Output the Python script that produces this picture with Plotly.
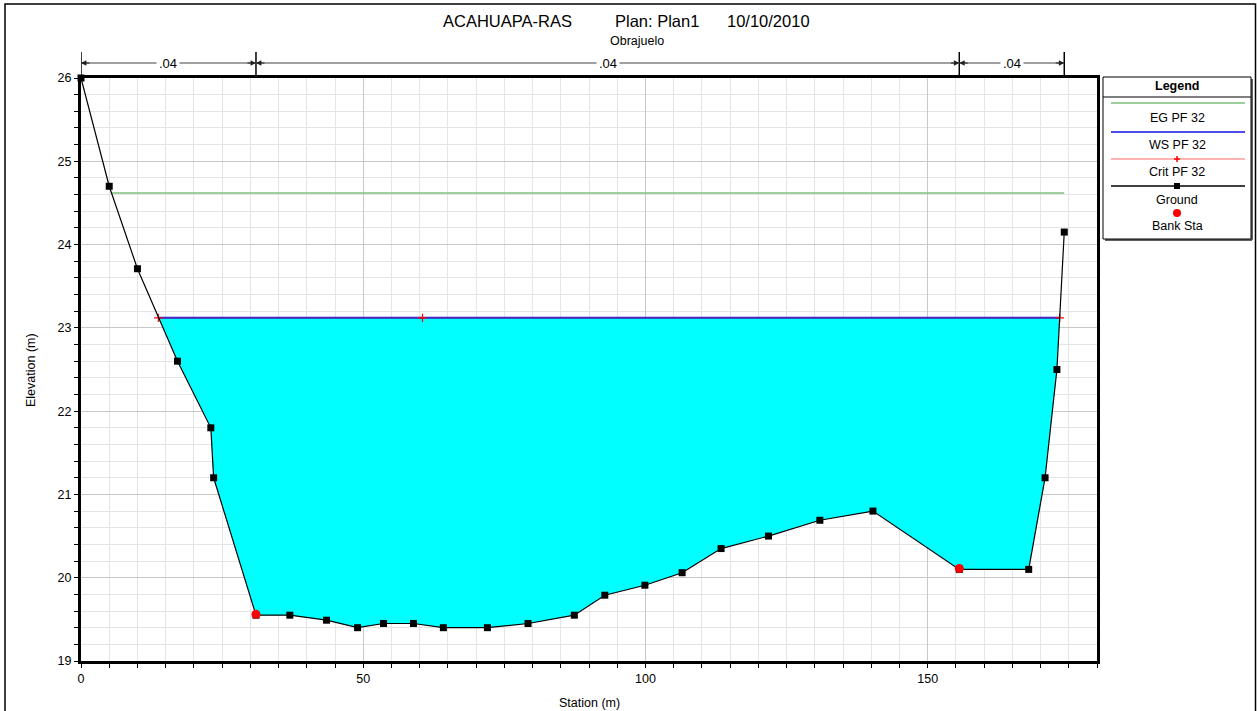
import numpy as np
import plotly.graph_objects as go

# Ground survey of the cross section
ground_sta = [0.0, 5.0, 10.0, 17.1, 23.0, 23.5, 31.0, 37.0, 43.5, 49.0, 53.6, 58.9, 64.2,
              72.0, 79.2, 87.4, 92.8, 99.9, 106.5, 113.4, 121.8, 130.9, 140.3, 155.6,
              167.9, 170.8, 172.9, 174.2]
ground_elev = [26.0, 24.7, 23.71, 22.6, 21.8, 21.2, 19.55, 19.55, 19.49, 19.40, 19.45, 19.45,
               19.40, 19.40, 19.45, 19.55, 19.79, 19.91, 20.06, 20.35, 20.50, 20.69, 20.80,
               20.10, 20.10, 21.20, 22.50, 24.15]

# Bank stations
bank_sta = [31.0, 155.6]
bank_elev = [19.56, 20.11]

# Profile PF 32
ws_elev = 23.12
eg_elev = 24.62
eg_sta = [5.3, 174.2]
crit_sta = [13.7, 60.5, 173.4]

# Manning's n regions
n_sta = [0.0, 31.0, 155.6, 174.2]
n_vals = [".04", ".04", ".04"]

x_ticks = [0, 50, 100, 150]
y_ticks = [19, 20, 21, 22, 23, 24, 25, 26]

W, H = 1257, 711
L, R, T, B = 81, 1097, 78, 661
FONT = "Liberation Sans, Arial, sans-serif"


def px(x):
    return (x - L) / (R - L)


def py(y):
    return (B - y) / (B - T)


gs = np.array(ground_sta)
ge = np.array(ground_elev)
below = ge < ws_elev
i = int(np.argmax(below))
j = len(ge) - 1 - int(np.argmax(below[::-1]))
xl = gs[i - 1] + (gs[i] - gs[i - 1]) * (ge[i - 1] - ws_elev) / (ge[i - 1] - ge[i])
xr = gs[j] + (gs[j + 1] - gs[j]) * (ws_elev - ge[j]) / (ge[j + 1] - ge[j])
water_x = [xl] + list(gs[i:j + 1]) + [xr]
water_y = [ws_elev] + list(ge[i:j + 1]) + [ws_elev]

fig = go.Figure()

# water body
fig.add_trace(go.Scatter(x=water_x, y=water_y, fill="toself", fillcolor="#00ffff",
                         mode="lines", line=dict(width=0), hoverinfo="skip"))
# energy grade
fig.add_trace(go.Scatter(x=eg_sta, y=[eg_elev, eg_elev], mode="lines",
                         line=dict(color="#7fbf7f", width=1.5)))
# water surface
fig.add_trace(go.Scatter(x=[xl, xr], y=[ws_elev, ws_elev], mode="lines",
                         line=dict(color="#1010e0", width=2)))
# critical depth
fig.add_trace(go.Scatter(x=[xl, xr], y=[ws_elev, ws_elev], mode="lines",
                         line=dict(color="#ff6060", width=1), opacity=0.45))
fig.add_trace(go.Scatter(x=crit_sta, y=[ws_elev] * len(crit_sta), mode="markers",
                         marker=dict(symbol="cross-thin", size=6, color="red",
                                     line=dict(color="red", width=1.2)),
                         cliponaxis=False))
# ground
fig.add_trace(go.Scatter(x=ground_sta, y=ground_elev, mode="lines+markers",
                         line=dict(color="black", width=1.2),
                         marker=dict(symbol="square", size=7, color="black"),
                         cliponaxis=False))
# bank stations
fig.add_trace(go.Scatter(x=bank_sta, y=bank_elev, mode="markers",
                         marker=dict(symbol="circle", size=9, color="red"),
                         cliponaxis=False))

shapes = []
annotations = []

# outer frame
shapes.append(dict(type="rect", xref="paper", yref="paper",
                   x0=px(5), x1=px(1255.5), y0=py(714), y1=py(4),
                   line=dict(color="black", width=1.5)))

# Manning's n region markers
n_line_y = py(63)
for s in n_sta:
    shapes.append(dict(type="line", xref="x", yref="paper", x0=s, x1=s,
                       y0=py(78), y1=py(52), line=dict(color="black", width=1.5)))
for k in range(len(n_vals)):
    a, b = n_sta[k], n_sta[k + 1]
    shapes.append(dict(type="line", xref="x", yref="paper", x0=a, x1=b,
                       y0=n_line_y, y1=n_line_y, line=dict(color="#404040", width=1.2)))
    annotations.append(dict(x=(a + b) / 2, y=n_line_y, xref="x", yref="paper",
                            text=n_vals[k], showarrow=False, bgcolor="white",
                            font=dict(family=FONT, size=13, color="black"),
                            borderpad=2, xanchor="center", yanchor="middle"))
    for end, off in ((a, 10), (b, -10)):
        annotations.append(dict(x=end, y=n_line_y, xref="x", yref="paper", text="",
                                showarrow=True, ax=off, ay=0, arrowhead=2,
                                arrowsize=0.9, arrowwidth=1.2, arrowcolor="#202020"))

# title block
for txt, cx in (("ACAHUAPA-RAS", 507), ("Plan: Plan1", 657), ("10/10/2010", 768)):
    annotations.append(dict(x=px(cx), y=py(21), xref="paper", yref="paper", text=txt,
                            showarrow=False, xanchor="center", yanchor="middle",
                            font=dict(family=FONT, size=16.5, color="black")))
annotations.append(dict(x=px(637), y=py(41), xref="paper", yref="paper", text="Obrajuelo",
                        showarrow=False, xanchor="center", yanchor="middle",
                        font=dict(family=FONT, size=12.5, color="black")))

# axis titles
annotations.append(dict(x=px(589), y=py(703), xref="paper", yref="paper",
                        text="Station (m)", showarrow=False, xanchor="center",
                        yanchor="middle", font=dict(family=FONT, size=12.5, color="black")))
annotations.append(dict(x=px(31), y=py(370), xref="paper", yref="paper",
                        text="Elevation (m)", showarrow=False, textangle=-90,
                        xanchor="center", yanchor="middle",
                        font=dict(family=FONT, size=12.5, color="black")))

# legend box
lx0, lx1, ly0, ly1 = 1103, 1251, 77, 239
shapes.append(dict(type="line", xref="paper", yref="paper", x0=px(lx1 + 1), x1=px(lx1 + 1),
                   y0=py(ly0 + 2), y1=py(ly1 + 1), line=dict(color="#606060", width=2)))
shapes.append(dict(type="line", xref="paper", yref="paper", x0=px(lx0 + 2), x1=px(lx1 + 1),
                   y0=py(ly1 + 1), y1=py(ly1 + 1), line=dict(color="#606060", width=2)))
shapes.append(dict(type="rect", xref="paper", yref="paper", x0=px(lx0), x1=px(lx1),
                   y0=py(ly1), y1=py(ly0), line=dict(color="black", width=1),
                   fillcolor="white", layer="above"))
shapes.append(dict(type="line", xref="paper", yref="paper", x0=px(lx0), x1=px(lx1),
                   y0=py(97), y1=py(97), line=dict(color="black", width=1)))
annotations.append(dict(x=px(1177), y=py(86), xref="paper", yref="paper",
                        text="<b>Legend</b>", showarrow=False, xanchor="center",
                        yanchor="middle", font=dict(family=FONT, size=12.5, color="black")))

leg_items = [
    ("EG PF 32", 103, 118, "#7fbf7f", None),
    ("WS PF 32", 132, 145, "#1010e0", None),
    ("Crit PF 32", 159, 172, "#ff9a9a", "cross"),
    ("Ground", 186, 200, "black", "square"),
    ("Bank Sta", None, 226, None, "dot"),
]
mx = 1177
for name, ly, ty, col, mk in leg_items:
    if ly is not None:
        shapes.append(dict(type="line", xref="paper", yref="paper", x0=px(1111), x1=px(1245),
                           y0=py(ly), y1=py(ly), line=dict(color=col, width=1.5)))
    if mk == "cross":
        shapes.append(dict(type="line", xref="paper", yref="paper", x0=px(mx - 3), x1=px(mx + 3),
                           y0=py(ly), y1=py(ly), line=dict(color="red", width=1.5)))
        shapes.append(dict(type="line", xref="paper", yref="paper", x0=px(mx), x1=px(mx),
                           y0=py(ly - 3), y1=py(ly + 3), line=dict(color="red", width=1.5)))
    elif mk == "square":
        shapes.append(dict(type="rect", xref="paper", yref="paper", x0=px(mx - 3), x1=px(mx + 3),
                           y0=py(ly + 3), y1=py(ly - 3), fillcolor="black",
                           line=dict(color="black", width=0)))
    elif mk == "dot":
        shapes.append(dict(type="circle", xref="paper", yref="paper", x0=px(mx - 4),
                           x1=px(mx + 4), y0=py(217), y1=py(209), fillcolor="red",
                           line=dict(color="red", width=0)))
    annotations.append(dict(x=px(mx), y=py(ty), xref="paper", yref="paper", text=name,
                            showarrow=False, xanchor="center", yanchor="middle",
                            font=dict(family=FONT, size=12.5, color="black")))

axis_common = dict(showline=True, linewidth=3, linecolor="black", mirror=True,
                   ticks="outside", ticklen=4, tickwidth=1, tickcolor="black",
                   gridcolor="#c8c8c8", gridwidth=1, zeroline=False, automargin=False,
                   tickfont=dict(family=FONT, size=12.5, color="black"))

fig.update_layout(
    width=W, height=H,
    margin=dict(l=L, r=W - R, t=T, b=H - B, pad=0),
    paper_bgcolor="white", plot_bgcolor="white",
    showlegend=False,
    shapes=shapes, annotations=annotations,
    xaxis=dict(range=[0, 180], tickvals=x_ticks,
               minor=dict(dtick=5, tick0=0, ticks="outside", ticklen=4, tickcolor="black",
                          showgrid=True, gridcolor="#e4e4e4", gridwidth=1),
               **axis_common),
    yaxis=dict(range=[19, 26], tickvals=y_ticks,
               minor=dict(dtick=0.2, tick0=19, ticks="outside", ticklen=4, tickcolor="black",
                          showgrid=True, gridcolor="#e4e4e4", gridwidth=1),
               **axis_common),
)

fig.write_html("out.html")
